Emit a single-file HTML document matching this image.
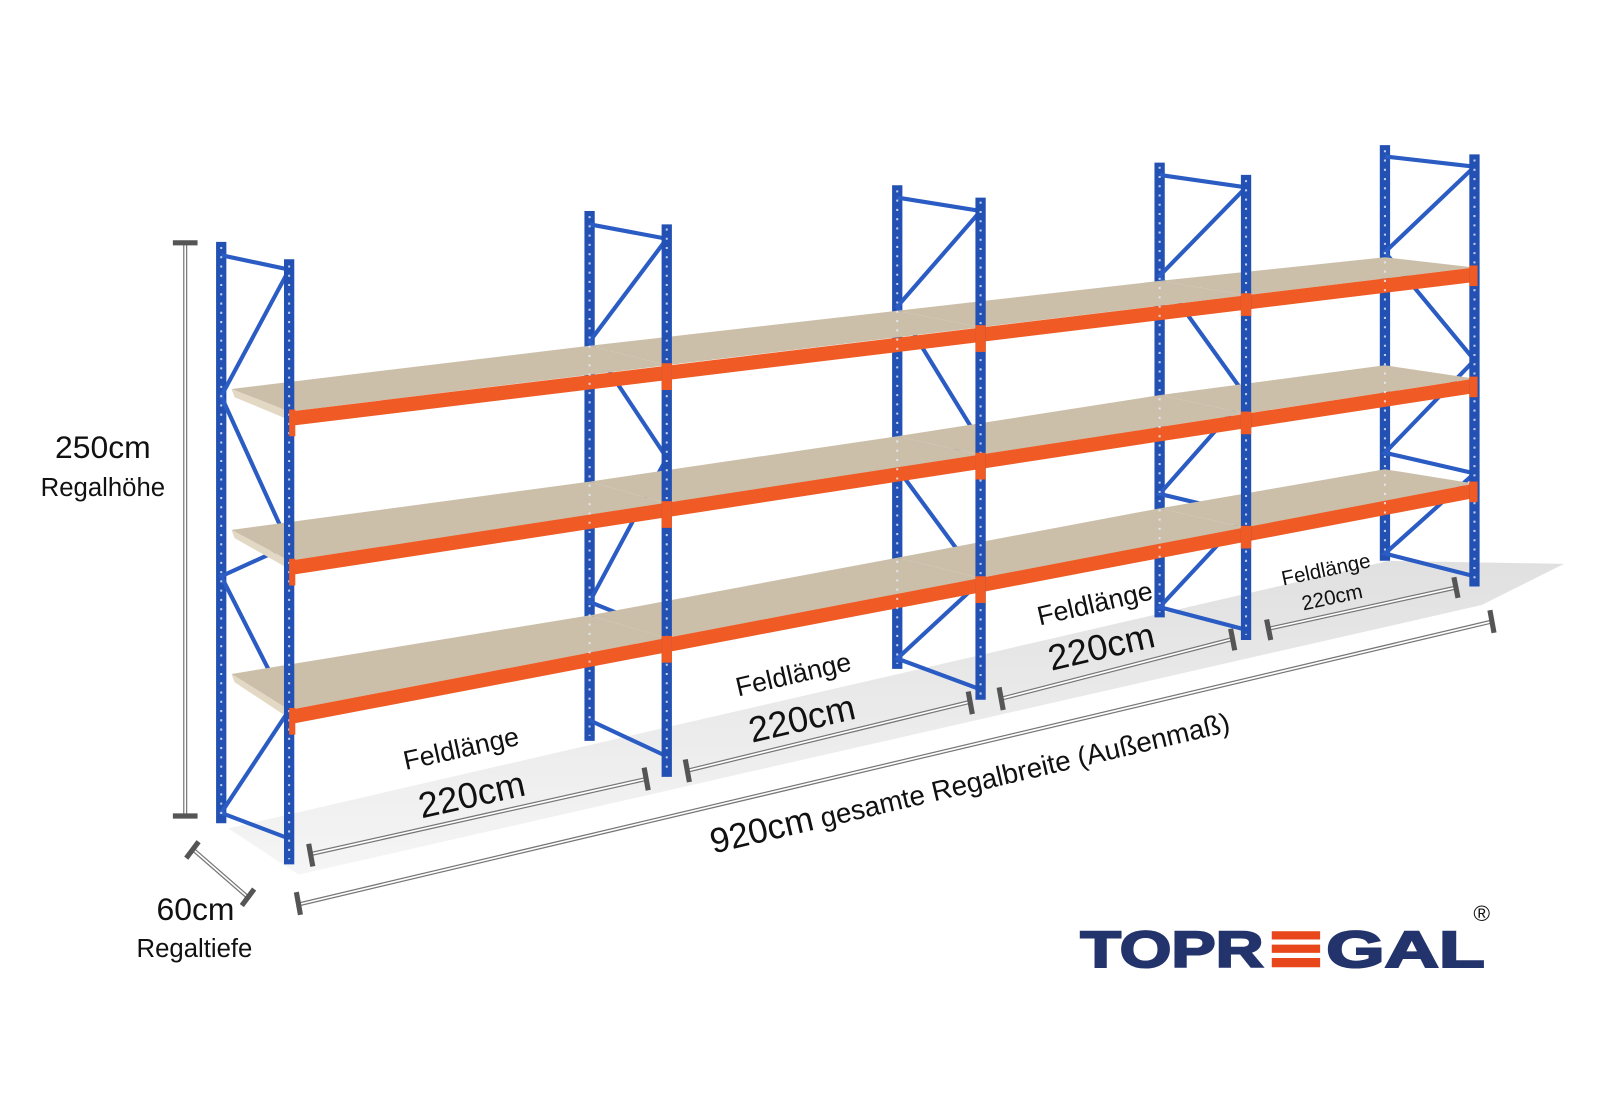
<!DOCTYPE html>
<html><head><meta charset="utf-8"><style>
html,body{margin:0;padding:0;background:#fff;width:1600px;height:1100px;overflow:hidden}
svg{display:block}
text{font-family:"Liberation Sans",sans-serif;fill:#111}
</style></head><body>
<svg width="1600" height="1100" viewBox="0 0 1555 1069" preserveAspectRatio="none" xmlns="http://www.w3.org/2000/svg">
<defs>
<linearGradient id="fl" x1="0" y1="0" x2="0" y2="1"><stop offset="0" stop-color="#d6d6d6"/><stop offset="1" stop-color="#f2f2f2"/></linearGradient>
</defs>
<polygon points="222,805 1350,545 1520,548 1440,588 290,850" fill="url(#fl)" opacity="0.75"/>

<g stroke="#2350b3" stroke-width="10">
<line x1="215" y1="235" x2="215" y2="800"/>
<line x1="573" y1="205" x2="573" y2="720"/>
<line x1="872" y1="180" x2="872" y2="650"/>
<line x1="1127" y1="158" x2="1127" y2="600"/>
<line x1="1346" y1="141" x2="1346" y2="545"/>
</g>
<g stroke="#2a5cc4" stroke-width="4" fill="none">
<polyline points="215,248 281,262 215,385 281,530 215,560 281,690 215,790 281,815"/>
<polyline points="573,218 648,232 573,332 648,445 573,585 648,615"/>
<polyline points="573,700 648,735"/>
<polyline points="872,192 953,205 872,298 953,430 872,455 953,565 872,640 953,670"/>
<polyline points="1127,170 1211,182 1127,268 1211,385 1127,480 1211,500 1127,590 1211,612"/>
<polyline points="1346,152 1433,162 1346,245 1433,350 1346,440 1433,460 1346,538 1433,560"/>
</g>

<g fill="#cbbfaa">
<polygon points="225,378 573,336 648,355 281,400"/>
<polygon points="225,515 573,468 648,489 281,545"/>
<polygon points="225,655 573,598 648,620 281,690"/>
<polygon points="573,336 872,302 953,318 648,355"/>
<polygon points="573,468 872,424 953,442 648,489"/>
<polygon points="573,598 872,542 953,562 648,620"/>
<polygon points="872,302 1127,273 1211,287 953,318"/>
<polygon points="872,424 1127,384 1211,402 953,442"/>
<polygon points="872,542 1127,494 1211,513 953,562"/>
<polygon points="1127,273 1346,250 1433,260 1211,287"/>
<polygon points="1127,384 1346,355 1433,368 1211,402"/>
<polygon points="1127,494 1346,456 1433,470 1211,513"/>
</g>
<g fill="#e3d8c4">
<polygon points="225,378 281,400 281,408 228,386"/>
<polygon points="225,515 281,545 281,553 228,523"/>
<polygon points="225,655 281,690 281,698 228,663"/>
</g>
<g fill="#f05a24">
<polygon points="281,400 1433,260 1433,274 281,414"/>
<polygon points="281,545 1433,368 1433,382 281,559"/>
<polygon points="281,690 1433,470 1433,484 281,704"/>
</g>
<g stroke="#2350b3" stroke-width="10">
<line x1="281" y1="252" x2="281" y2="840"/>
<line x1="648" y1="218" x2="648" y2="755"/>
<line x1="953" y1="192" x2="953" y2="680"/>
<line x1="1211" y1="170" x2="1211" y2="622"/>
<line x1="1433" y1="150" x2="1433" y2="570"/>
</g>
<g stroke="#e8eefc" stroke-width="2" stroke-dasharray="2,7" opacity="0.8">
<line x1="215" y1="240" x2="215" y2="795"/><line x1="281" y1="258" x2="281" y2="835"/>
<line x1="573" y1="210" x2="573" y2="715"/><line x1="648" y1="222" x2="648" y2="750"/>
<line x1="872" y1="185" x2="872" y2="645"/><line x1="953" y1="196" x2="953" y2="675"/>
<line x1="1127" y1="162" x2="1127" y2="595"/><line x1="1211" y1="175" x2="1211" y2="617"/>
<line x1="1346" y1="146" x2="1346" y2="540"/><line x1="1433" y1="155" x2="1433" y2="565"/>
</g>
<g fill="#f05a24">
<rect x="281" y="398" width="6" height="26"/><rect x="281" y="543" width="6" height="26"/><rect x="281" y="688" width="6" height="26"/>
<rect x="643" y="353" width="10" height="26"/><rect x="643" y="487" width="10" height="26"/><rect x="643" y="618" width="10" height="26"/>
<rect x="948" y="316" width="10" height="26"/><rect x="948" y="440" width="10" height="26"/><rect x="948" y="560" width="10" height="26"/>
<rect x="1206" y="285" width="10" height="22"/><rect x="1206" y="400" width="10" height="22"/><rect x="1206" y="511" width="10" height="22"/>
<rect x="1428" y="258" width="8" height="20"/><rect x="1428" y="366" width="8" height="20"/><rect x="1428" y="468" width="8" height="20"/>
</g>

<g stroke="#777" stroke-width="4" fill="none">
<line x1="180" y1="235" x2="180" y2="793"/>
<line x1="302" y1="830" x2="628" y2="757"/>
<line x1="668" y1="749" x2="943" y2="682"/>
<line x1="973" y1="679" x2="1198" y2="621"/>
<line x1="1233" y1="611" x2="1415" y2="571"/>
<line x1="290" y1="879" x2="1450" y2="604"/>
<line x1="187" y1="825" x2="241" y2="872"/>
</g>
<g stroke="#fff" stroke-width="1.6" fill="none">
<line x1="180" y1="235" x2="180" y2="793"/>
<line x1="302" y1="830" x2="628" y2="757"/>
<line x1="668" y1="749" x2="943" y2="682"/>
<line x1="973" y1="679" x2="1198" y2="621"/>
<line x1="1233" y1="611" x2="1415" y2="571"/>
<line x1="290" y1="879" x2="1450" y2="604"/>
<line x1="187" y1="825" x2="241" y2="872"/>
</g>
<g stroke="#555" stroke-width="5">
<line x1="168" y1="236" x2="192" y2="236"/><line x1="168" y1="793" x2="192" y2="793"/>
<line x1="300" y1="820" x2="304" y2="842"/><line x1="626" y1="746" x2="630" y2="768"/>
<line x1="666" y1="738" x2="670" y2="760"/><line x1="941" y1="672" x2="945" y2="694"/>
<line x1="971" y1="668" x2="975" y2="690"/><line x1="1196" y1="611" x2="1200" y2="632"/>
<line x1="1231" y1="602" x2="1235" y2="622"/><line x1="1413" y1="561" x2="1417" y2="581"/>
<line x1="288" y1="867" x2="292" y2="889"/><line x1="1448" y1="593" x2="1452" y2="615"/>
<line x1="181" y1="834" x2="193" y2="818"/><line x1="235" y1="880" x2="247" y2="864"/>
</g>

<text x="100" y="445" font-size="31" text-anchor="middle">250cm</text>
<text x="100" y="482" font-size="25" text-anchor="middle">Regalhöhe</text>
<text x="190" y="894" font-size="31" text-anchor="middle">60cm</text>
<text x="189" y="930" font-size="25" text-anchor="middle">Regaltiefe</text>

<g transform="translate(450,736) rotate(-12.5)"><text font-size="26" text-anchor="middle">Feldlänge</text></g>
<g transform="translate(461,784) rotate(-12.5)"><text font-size="35" text-anchor="middle">220cm</text></g>
<g transform="translate(773,664) rotate(-13)"><text font-size="26" text-anchor="middle">Feldlänge</text></g>
<g transform="translate(782,710) rotate(-13)"><text font-size="35" text-anchor="middle">220cm</text></g>
<g transform="translate(1066,595) rotate(-13)"><text font-size="26" text-anchor="middle">Feldlänge</text></g>
<g transform="translate(1073,640) rotate(-13)"><text font-size="35" text-anchor="middle">220cm</text></g>
<g transform="translate(1290,560) rotate(-12)"><text font-size="20" text-anchor="middle">Feldlänge</text></g>
<g transform="translate(1296,587) rotate(-12)"><text font-size="20" text-anchor="middle">220cm</text></g>
<g transform="translate(945,770) rotate(-13.3)"><text font-size="27" text-anchor="middle"><tspan font-size="34">920cm</tspan> gesamte Regalbreite  (Außenmaß)</text></g>

<text x="1050" y="940" font-size="50" font-weight="bold" textLength="178" lengthAdjust="spacingAndGlyphs" style="fill:#23336b;stroke:#23336b;stroke-width:2">TOPR</text>
<rect x="1236" y="905" width="47" height="8" fill="#e8471c"/>
<rect x="1236" y="918" width="47" height="8" fill="#e8471c"/>
<rect x="1236" y="931" width="47" height="9" fill="#e8471c"/>
<text x="1289" y="940" font-size="50" font-weight="bold" textLength="154" lengthAdjust="spacingAndGlyphs" style="fill:#23336b;stroke:#23336b;stroke-width:2">GAL</text>
<text x="1432" y="895" font-size="22" style="fill:#111">®</text>
</svg>
</body></html>
